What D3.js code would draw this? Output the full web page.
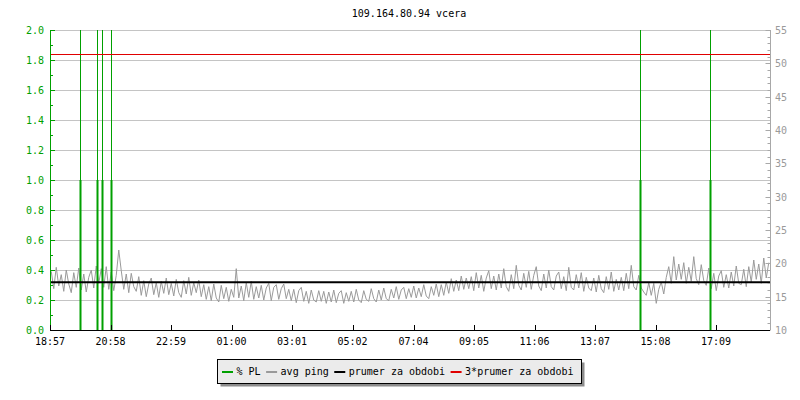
<!DOCTYPE html>
<html>
<head>
<meta charset="utf-8">
<script src="https://cdn.jsdelivr.net/npm/d3@7/dist/d3.min.js"></script>
<style>
  html, body { margin: 0; padding: 0; background: #ffffff; }
  svg { display: block; }
  text { font-family: "DejaVu Sans Mono", monospace; font-size: 10px; }
</style>
</head>
<body>
<svg id="chart" width="800" height="400"></svg>
<script>
// ---------------- DATA ----------------
const chartTitle = "109.164.80.94 vcera";
const startTime = "18:57";
const stepMinutes = 5;
const xTickLabels = ["18:57","20:58","22:59","01:00","03:01","05:02","07:04","09:05","11:06","13:07","15:08","17:09"];
const leftTicks = [0.0,0.2,0.4,0.6,0.8,1.0,1.2,1.4,1.6,1.8,2.0];
const rightTicks = [10,15,20,25,30,35,40,45,50,55];
const legendLabels = ["% PL","avg ping","prumer za obdobi","3*prumer za obdobi"];

// avg ping (ms), one value per 5 minutes
const avgPing = [
  18.8,16.2,19.4,16.6,18.3,15.8,19.0,16.9,15.6,18.6,16.4,19.3,
  16.0,18.4,15.7,17.9,19.0,16.3,19.6,17.0,19.2,16.4,19.5,16.1,
  18.7,15.9,18.2,22.0,18.9,16.1,18.4,15.6,18.5,16.5,15.8,18.0,
  15.2,17.4,15.0,16.9,17.8,15.3,17.1,14.9,17.3,15.5,17.8,15.3,
  17.0,15.1,17.6,15.6,14.9,17.4,15.4,17.9,15.2,17.1,15.6,17.5,
  15.0,16.8,14.6,16.5,14.4,16.9,14.8,14.2,16.7,14.7,16.4,14.3,
  16.1,14.9,19.2,14.8,16.6,14.4,17.1,14.9,17.3,14.6,16.5,14.8,
  16.7,14.5,16.3,17.0,14.4,16.4,16.8,14.6,16.2,16.9,14.7,16.1,
  14.4,16.1,14.1,15.9,16.4,14.3,15.8,14.0,16.0,14.5,14.2,15.9,
  14.3,15.8,14.0,15.7,14.2,16.0,14.1,15.5,15.9,14.0,15.6,14.3,
  15.8,14.2,16.1,14.5,14.1,15.9,14.6,14.3,16.2,14.7,14.2,16.0,
  14.5,16.3,14.7,14.4,16.1,14.8,16.5,14.6,16.0,16.4,14.7,16.2,
  14.9,16.6,14.8,16.3,15.0,16.8,15.1,14.7,16.5,15.2,16.9,15.0,
  16.8,15.2,17.2,15.5,17.7,15.8,17.5,15.9,18.1,16.1,17.8,16.2,
  18.0,15.9,18.6,16.3,18.2,15.8,17.8,18.9,16.2,18.1,16.0,18.4,
  16.3,19.2,16.5,15.8,18.3,16.2,19.7,16.7,16.0,18.5,16.4,18.8,
  16.1,18.2,19.5,16.6,15.9,18.4,16.3,19.0,16.5,16.0,18.1,18.7,
  16.2,18.0,15.9,19.4,16.4,16.0,18.3,16.3,18.6,15.8,17.9,16.3,
  15.9,17.8,15.7,18.2,16.2,15.6,18.0,16.1,18.7,15.8,17.6,16.0,
  17.9,15.9,18.5,16.2,19.7,16.5,16.0,18.2,16.3,15.7,15.2,17.1,
  15.2,17.0,14.0,16.1,17.2,15.4,17.9,19.5,17.0,21.0,17.5,19.9,
  17.6,20.1,17.0,19.4,17.3,21.0,17.7,16.8,19.8,17.4,16.7,19.3,
  16.2,18.5,15.9,18.1,18.9,16.4,18.3,16.3,18.7,16.6,19.6,17.0,
  16.8,19.1,16.5,19.5,17.2,20.5,17.6,19.9,17.0,20.8,17.8,20.1
];

// packet loss events: minutes after start, and value (%)
const plMinutes = [60, 94, 104, 122, 1180, 1320];
const plValues  = [1.0, 1.0, 1.0, 1.0, 1.0, 1.0];

const meanPing = 17.15;               // prumer za obdobi
const tripleMean = 3 * meanPing;      // 3*prumer za obdobi

// ---------------- LAYOUT ----------------
const svg = d3.select("#chart");
const L = 50, R = 770, T = 30, B = 330;
const colGreen = "#00a000", colGray = "#9a9a9a", colGrid = "#c4c4c4";

const toMin = s => { const [h, m] = s.split(":").map(Number); return h * 60 + m; };
const base = new Date(2000, 0, 1, 0, 0);
const startMin = toMin(startTime);
const dt = mins => new Date(base.getTime() + (startMin + mins) * 60000);

const x = d3.scaleTime().domain([dt(0), dt(1440)]).range([L, R]);
const yL = d3.scaleLinear().domain([0, 2]).range([B, T]);
const yR = d3.scaleLinear().domain([10, 55]).range([B, T]);

svg.append("defs").append("clipPath").attr("id", "plot")
  .append("rect").attr("x", L).attr("y", T).attr("width", R - L).attr("height", B - T);

// title
svg.append("text").attr("x", 409).attr("y", 17).attr("text-anchor", "middle")
  .attr("fill", "#000").text(chartTitle);

// grid (left axis)
svg.append("g").selectAll("line").data(leftTicks.filter(d => d > 0)).join("line")
  .attr("x1", L).attr("x2", R)
  .attr("y1", d => Math.round(yL(d)) + 0.5).attr("y2", d => Math.round(yL(d)) + 0.5)
  .attr("stroke", colGrid).attr("stroke-width", 1);

const plot = svg.append("g").attr("clip-path", "url(#plot)");

// avg ping line
const pingPts = avgPing.map((v, i) => ({ t: dt(i * stepMinutes + 2.5), v }));
plot.append("path").datum(pingPts)
  .attr("d", d3.line().x(d => x(d.t)).y(d => yR(d.v)).curve(d3.curveLinear))
  .attr("fill", "none").attr("stroke", colGray).attr("stroke-width", 1);

// packet loss: full-height thin rule + thick bar to value
const pl = plMinutes.map((m, i) => ({ t: dt(m), v: plValues[i] }));
plot.append("g").selectAll("line").data(pl).join("line")
  .attr("x1", d => Math.round(x(d.t)) + 0.5).attr("x2", d => Math.round(x(d.t)) + 0.5)
  .attr("y1", yL(0)).attr("y2", yL(2))
  .attr("stroke", colGreen).attr("stroke-width", 1);
plot.append("g").selectAll("rect").data(pl).join("rect")
  .attr("x", d => Math.round(x(d.t)) - 0.5).attr("width", 2)
  .attr("y", d => yL(d.v)).attr("height", d => yL(0) - yL(d.v))
  .attr("fill", colGreen);

// mean lines
svg.append("line").attr("x1", L).attr("x2", R)
  .attr("y1", yR(meanPing)).attr("y2", yR(meanPing))
  .attr("stroke", "#000").attr("stroke-width", 2);
svg.append("line").attr("x1", L).attr("x2", R)
  .attr("y1", Math.round(yR(tripleMean)) + 0.5).attr("y2", Math.round(yR(tripleMean)) + 0.5)
  .attr("stroke", "#e00000").attr("stroke-width", 1);

// left axis
const gL = svg.append("g");
gL.append("line").attr("x1", L + 0.5).attr("x2", L + 0.5).attr("y1", T).attr("y2", B)
  .attr("stroke", colGreen);
const leftMinor = d3.range(0, 2.0001, 0.1);
gL.selectAll("line.t").data(leftMinor).join("line").attr("class", "t")
  .attr("x1", L).attr("x2", (d, i) => L + (i % 2 === 0 ? 5 : 3))
  .attr("y1", d => Math.round(yL(d)) + 0.5).attr("y2", d => Math.round(yL(d)) + 0.5)
  .attr("stroke", colGreen);
gL.selectAll("text").data(leftTicks).join("text")
  .attr("x", 44).attr("y", d => yL(d) + 4).attr("text-anchor", "end")
  .attr("fill", colGreen).text(d => d.toFixed(1));

// right axis
const gR = svg.append("g");
gR.append("line").attr("x1", R + 0.5).attr("x2", R + 0.5).attr("y1", T).attr("y2", B)
  .attr("stroke", "#a8a8a8");
const rightMinor = d3.range(10, 55.001, 1);
gR.selectAll("line.t").data(rightMinor).join("line").attr("class", "t")
  .attr("x1", R + 0.5).attr("x2", d => R + 0.5 - (d % 5 === 0 ? 5 : 3))
  .attr("y1", d => Math.round(yR(d)) + 0.5).attr("y2", d => Math.round(yR(d)) + 0.5)
  .attr("stroke", "#a8a8a8");
gR.selectAll("text").data(rightTicks).join("text")
  .attr("x", 775).attr("y", d => yR(d) + 4)
  .attr("fill", "#9a9a9a").text(d => d);

// x axis
const gX = svg.append("g");
gX.append("line").attr("x1", L).attr("x2", R).attr("y1", B + 0.5).attr("y2", B + 0.5)
  .attr("stroke", "#000");
const xt = xTickLabels.map(s => ({ s, t: dt(((toMin(s) - startMin) + 1440) % 1440) }));
gX.selectAll("line.t").data(xt).join("line").attr("class", "t")
  .attr("x1", d => Math.round(x(d.t)) + 0.5).attr("x2", d => Math.round(x(d.t)) + 0.5)
  .attr("y1", B - 5).attr("y2", B).attr("stroke", "#000");
gX.selectAll("text").data(xt).join("text")
  .attr("x", d => x(d.t)).attr("y", 345).attr("text-anchor", "middle")
  .attr("fill", "#000").text(d => d.s);

// legend
const lg = svg.append("g");
const lx = 217.5, ly = 359.5, lw = 364, lh = 24;
lg.append("rect").attr("x", lx + 3).attr("y", ly + 3).attr("width", lw).attr("height", lh)
  .attr("fill", "#8c8c8c");
lg.append("rect").attr("x", lx).attr("y", ly).attr("width", lw).attr("height", lh)
  .attr("fill", "#ebebeb").attr("stroke", "#000").attr("stroke-width", 1);
const legendColors = [colGreen, colGray, "#000", "#e00000"];
let cx = 222;
legendLabels.forEach((lab, i) => {
  lg.append("rect").attr("x", cx).attr("y", 371).attr("width", 11).attr("height", 2)
    .attr("fill", legendColors[i]);
  const t = lg.append("text").attr("x", cx + 14.5).attr("y", 375).attr("fill", "#000").text(lab);
  cx = cx + 14.5 + t.node().getComputedTextLength() + 5.5;
});
</script>
</body>
</html>
